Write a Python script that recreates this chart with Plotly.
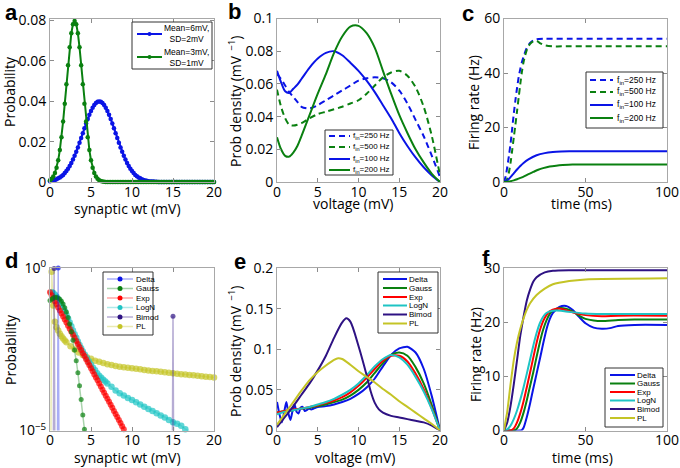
import plotly.graph_objects as go

W, H = 680, 468

BLUE = "#0A14E6"
GREEN = "#0A8010"
RED = "#FF0000"
CYAN = "#1EC4C4"
INDIGO = "#2E1283"
YELLOW = "#C4C426"

# ---------------- panel a : weight distributions ----------------
wt_grid = [round(0.2 * i, 1) for i in range(101)]
p_mean6 = [0.0004, 0.0006, 0.0008, 0.0010, 0.0014, 0.0018, 0.0022, 0.0028, 0.0035, 0.0044,
           0.0054, 0.0066, 0.0079, 0.0094, 0.0111, 0.0130, 0.0150, 0.0171, 0.0194, 0.0218,
           0.0242, 0.0266, 0.0290, 0.0312, 0.0333, 0.0352, 0.0368, 0.0381, 0.0391, 0.0397,
           0.0399,
           0.0397, 0.0391, 0.0381, 0.0368, 0.0352, 0.0333, 0.0312, 0.0290, 0.0266, 0.0242,
           0.0218, 0.0194, 0.0171, 0.0150, 0.0130, 0.0111, 0.0094, 0.0079, 0.0066, 0.0054,
           0.0044, 0.0035, 0.0028, 0.0022, 0.0018, 0.0014, 0.0010, 0.0008, 0.0006, 0.0004,
           0.0003, 0.0002, 0.0002, 0.0001, 0.0001] + [0.0] * 35
p_mean3 = [0.0009, 0.0016, 0.0027, 0.0045, 0.0071, 0.0108, 0.0158, 0.0222, 0.0300, 0.0388,
           0.0484, 0.0579, 0.0667, 0.0737, 0.0782, 0.0798, 0.0782, 0.0737, 0.0667, 0.0579,
           0.0484, 0.0388, 0.0300, 0.0222, 0.0158, 0.0108, 0.0071, 0.0045, 0.0027, 0.0016,
           0.0009, 0.0005, 0.0002, 0.0001] + [0.0] * 67

# ---------------- panel b : voltage densities ----------------
volt_b = [0, 0.5, 1, 1.5, 2, 2.5, 3, 4, 5, 6, 7, 8, 9, 10, 11, 12, 13, 14, 15, 16, 17, 18, 19, 20]
dens_250 = [0.066, 0.063, 0.059, 0.055, 0.052, 0.049, 0.046, 0.045, 0.047, 0.050, 0.053, 0.056,
            0.059, 0.062, 0.0635, 0.064, 0.0635, 0.061, 0.056, 0.048, 0.038, 0.028, 0.016, 0.003]
dens_500 = [0.0565, 0.046, 0.039, 0.035, 0.0345, 0.035, 0.036, 0.039, 0.0415, 0.043, 0.0445, 0.046,
            0.048, 0.050, 0.054, 0.059, 0.064, 0.067, 0.068, 0.065, 0.058, 0.046, 0.028, 0.004]
dens_100 = [0.068, 0.061, 0.0555, 0.0545, 0.057, 0.0595, 0.063, 0.070, 0.0755, 0.079, 0.080, 0.0775,
            0.073, 0.068, 0.062, 0.055, 0.047, 0.039, 0.030, 0.022, 0.015, 0.009, 0.004, 0.0]
dens_200 = [0.0274, 0.020, 0.016, 0.0155, 0.018, 0.022, 0.028, 0.041, 0.054, 0.066, 0.079, 0.089,
            0.095, 0.0955, 0.091, 0.082, 0.068, 0.054, 0.041, 0.030, 0.020, 0.012, 0.005, 0.0]

# ---------------- panel c : firing rates ----------------
t_250 = [0, 1, 2, 3, 4, 5, 6, 7, 8, 9, 10, 11, 12, 13, 14, 16, 18, 20, 25, 30, 40, 60, 80, 100]
rate_250 = [0, 2, 5.5, 9.5, 14, 19.5, 25, 30, 34.5, 38.5, 41.5, 44, 46, 47.8, 49.2, 51, 52, 52.4,
            52.6, 52.6, 52.6, 52.6, 52.6, 52.6]
t_500 = [0, 1, 2, 3, 4, 5, 6, 7, 8, 9, 10, 11, 12, 13, 14, 15, 16, 18, 20, 22, 25, 30, 40, 100]
rate_500 = [0, 0.3, 1.2, 3.5, 7, 11.5, 16.3, 21, 26, 31, 36, 40.5, 44, 46.5, 48.5, 49.8, 50.7, 51.6,
            51.8, 51, 50.2, 49.8, 49.8, 49.8]
t_100 = [0, 2, 4, 6, 8, 10, 12, 15, 20, 25, 30, 35, 40, 50, 60, 80, 100]
rate_100 = [0, 0.6, 1.8, 3.2, 4.6, 5.9, 7.0, 8.3, 9.8, 10.6, 11.0, 11.2, 11.3, 11.3, 11.3, 11.3, 11.3]
t_200 = [0, 2, 4, 6, 8, 10, 12, 15, 18, 21, 24, 28, 32, 36, 42, 50, 60, 100]
rate_200 = [0, 0.1, 0.3, 0.6, 1.0, 1.5, 2.0, 2.9, 3.7, 4.5, 5.1, 5.7, 6.0, 6.2, 6.4, 6.4, 6.4, 6.4]

# ---------------- panel d : distributions on log scale ----------------
delta_wt = [0.8, 1.0, 1.2]
delta_p = [0, 1.0, 0]
gauss_wt = [round(0.2 * i, 1) for i in range(23)]
gauss_p = [0.10, 0.11, 0.12, 0.125, 0.125, 0.12, 0.11, 0.095, 0.078, 0.060, 0.044, 0.030, 0.019,
           0.011, 0.0060, 0.0030, 0.0014, 0.0006, 0.00024, 0.00009, 0.00003, 0.000011, 0.000004]
exp_wt = [round(0.2 * i, 1) for i in range(48)]
exp_p = [0.18, 0.145, 0.117, 0.0943, 0.0760, 0.0613, 0.0494, 0.0398, 0.0321, 0.0259,
         0.0209, 0.0168, 0.0136, 0.0109, 0.0088, 0.0071, 0.0057, 0.0046, 0.0037, 0.0030,
         0.0024, 0.00195, 0.00157, 0.00127, 0.00102, 0.00082, 0.00066, 0.00053, 0.00043, 0.00035,
         0.00028, 0.000225, 0.000181, 0.000146, 0.000118, 0.000095, 0.000077, 0.000062, 0.000050,
         0.000040, 0.000032, 0.000026, 0.000021, 0.000017, 0.0000136, 0.000011, 0.0000089, 0.0000072]
logn_wt = [0.2, 0.4, 0.6, 0.8, 1.0, 1.2, 1.4, 1.6, 1.8, 2.0, 2.2, 2.4, 2.6, 2.8, 3.0, 3.2, 3.4, 3.6,
           3.8, 4.0, 4.25, 4.5, 4.75, 5.0, 5.25, 5.5, 5.75, 6.0, 6.25, 6.5, 6.75, 7.0, 7.5, 8.0,
           8.5, 9.0, 9.5, 10.0, 10.5, 11.0, 11.5, 12.0, 12.5, 13.0, 13.5, 14.0, 14.5, 15.0, 15.5,
           16.0, 16.5, 17.0]
logn_p = [0.18, 0.17, 0.15, 0.13, 0.11, 0.092, 0.075, 0.060, 0.047, 0.036, 0.028, 0.021, 0.016,
          0.012, 0.0092, 0.0071, 0.0055, 0.0043, 0.0034, 0.0027, 0.00213, 0.00168, 0.00133,
          0.00105, 0.00086, 0.00071, 0.00058, 0.00048, 0.00042, 0.000365, 0.00032, 0.00028,
          0.00022, 0.00017, 0.00014, 0.00012, 0.0001, 0.000087, 0.000074, 0.000063, 0.000054,
          0.000046, 0.00004, 0.000034, 0.000029, 0.000025, 0.000021, 0.000018, 0.000016,
          0.000014, 0.000011, 0.0000095]
bimod_wt = [0.3, 0.5, 0.7, 14.8, 15.0, 15.2]
bimod_p = [0, 0.97, 0, 0, 0.033, 0]
pl_wt = [0, 0.2, 0.4, 0.6, 0.8, 1.0, 1.2, 1.4, 1.6, 1.8, 2.0, 2.5, 3.0, 3.5, 4.0, 4.5, 5.0, 5.5,
         6.0, 6.5, 7.0, 7.5, 8.0, 8.5, 9.0, 9.5, 10.0, 10.5, 11.0, 11.5, 12.0, 12.5, 13.0, 13.5,
         14.0, 14.5, 15.0, 15.5, 16.0, 16.5, 17.0, 17.5, 18.0, 18.5, 19.0, 19.5, 20.0]
pl_p = [0, 0.77, 0.07, 0.022, 0.015, 0.012, 0.0095, 0.008, 0.0068, 0.0059, 0.0052, 0.0039, 0.0031,
        0.0025, 0.0021, 0.0018, 0.0016, 0.0014, 0.0013, 0.0012, 0.0011, 0.00103, 0.00097,
        0.00092, 0.00088, 0.00085, 0.00082, 0.00079, 0.00076, 0.00073, 0.0007, 0.00068, 0.00066,
        0.00064, 0.00062, 0.0006, 0.00058, 0.00056, 0.00054, 0.00053, 0.00051, 0.0005, 0.00048,
        0.00047, 0.00045, 0.00044, 0.00043]

# ---------------- panel e : voltage densities per distribution ----------------
volt_e = list(range(21))
delta_volt = [0, 0.3, 0.6, 0.9, 1.15, 1.4, 1.65, 1.9, 2.15, 2.4, 2.65, 2.9, 3.15, 3.4, 3.65, 3.9,
              4.2, 4.5, 5, 6, 7, 8, 9, 10, 11, 12, 13, 14, 15, 16, 17, 18, 19, 20]
dens_delta = [0.035, 0.020, 0.010, 0.024, 0.035, 0.021, 0.013, 0.024, 0.032, 0.023, 0.021, 0.028,
              0.029, 0.024, 0.025, 0.027, 0.026, 0.027, 0.029, 0.030, 0.032, 0.035, 0.039, 0.045,
              0.053, 0.064, 0.079, 0.093, 0.101, 0.103, 0.096, 0.076, 0.042, 0.0]
dens_gauss = [0.022, 0.024, 0.025, 0.027, 0.028, 0.030, 0.032, 0.035, 0.038, 0.043, 0.050, 0.059,
              0.071, 0.083, 0.093, 0.096, 0.092, 0.078, 0.058, 0.031, 0.0]
dens_exp = [0.022, 0.024, 0.026, 0.027, 0.029, 0.031, 0.034, 0.037, 0.041, 0.047, 0.055, 0.065,
            0.076, 0.086, 0.092, 0.092, 0.085, 0.070, 0.051, 0.027, 0.0]
dens_logn = [0.020, 0.023, 0.025, 0.027, 0.029, 0.032, 0.035, 0.039, 0.044, 0.050, 0.058, 0.068,
             0.079, 0.088, 0.093, 0.090, 0.081, 0.066, 0.048, 0.026, 0.0]
bimod_volt = [0, 1, 2, 3, 4, 5, 6, 7, 8, 8.5, 9, 10, 11, 11.5, 12, 12.5, 13, 14, 15, 16, 17, 18, 19, 20]
dens_bimod = [0.004, 0.017, 0.030, 0.044, 0.058, 0.074, 0.092, 0.114, 0.133, 0.138, 0.134, 0.104,
              0.068, 0.048, 0.034, 0.026, 0.022, 0.018, 0.016, 0.014, 0.012, 0.010, 0.006, 0.0]
pl_volt = [0, 1, 2, 3, 4, 5, 6, 7, 7.5, 8, 9, 10, 11, 12, 13, 14, 15, 16, 17, 18, 19, 20]
dens_pl = [0.007, 0.021, 0.035, 0.049, 0.062, 0.072, 0.080, 0.087, 0.089, 0.088, 0.081, 0.073,
           0.066, 0.059, 0.051, 0.044, 0.036, 0.029, 0.022, 0.015, 0.008, 0.0]

# ---------------- panel f : firing rates per distribution ----------------
t_delta = [0, 10, 11, 12, 14, 16, 18, 20, 22, 24, 26, 28, 30, 34, 38, 42, 46, 50, 55, 60, 65, 70, 80, 100]
rate_delta = [0, 0, 0.1, 0.5, 2.5, 5, 7.8, 10.5, 13.2, 16, 18.6, 20.5, 21.7, 22.8, 23.0, 22.3, 21.0,
              19.8, 19.0, 18.8, 18.9, 19.3, 19.5, 19.5]
t_gauss = [0, 6, 8, 10, 12, 14, 16, 18, 20, 22, 24, 26, 28, 30, 34, 38, 42, 46, 50, 55, 60, 70, 80, 100]
rate_gauss = [0, 0, 0.4, 1.5, 3.3, 5.6, 8.2, 10.8, 13.6, 16.3, 18.6, 20.3, 21.5, 22.1, 22.6, 22.5,
              22.0, 21.2, 20.6, 20.3, 20.2, 20.4, 20.5, 20.5]
t_exp = [0, 4, 6, 8, 10, 12, 14, 16, 18, 20, 22, 24, 26, 28, 32, 36, 40, 45, 50, 60, 70, 100]
rate_exp = [0, 0, 0.4, 1.5, 3.2, 5.4, 8.0, 10.7, 13.5, 16.2, 18.5, 20.2, 21.3, 22.0, 22.5, 22.4,
            22.0, 21.6, 21.3, 21.1, 21.2, 21.2]
t_logn = [0, 2, 4, 6, 8, 10, 12, 14, 16, 18, 20, 22, 24, 26, 30, 35, 40, 50, 60, 100]
rate_logn = [0, 0.2, 0.9, 2.1, 3.7, 5.7, 8.0, 10.5, 13.1, 15.7, 18.0, 19.8, 21.0, 21.7, 22.1, 22.1,
             21.9, 21.6, 21.5, 21.5]
t_bimod = [0, 2, 4, 6, 8, 10, 12, 14, 16, 18, 20, 25, 30, 40, 100]
rate_bimod = [0, 1.5, 4.5, 8.5, 13, 17.5, 21, 24, 26, 27.5, 28.3, 29.2, 29.5, 29.6, 29.6]
t_pl = [0, 1, 2, 4, 6, 8, 10, 12, 14, 16, 20, 25, 30, 40, 50, 100]
rate_pl = [0, 1.8, 3.5, 8.5, 13, 16.3, 18.8, 20.7, 22.3, 23.5, 25, 26.2, 27, 27.6, 27.9, 28.1]

FLOOR = 1e-12  # zero probabilities pushed below the log axis


def fx(px):
    return px / W


def fy(py):
    return 1 - py / H


COLS = [(50, 214), (277, 440), (504, 667)]
ROWS = [(18.5, 182), (268, 430.5)]


def axis_pair(i, col, row, xr, xt, yr, yt, ylog=False, yticktext=None):
    x0, x1 = COLS[col]
    y0, y1 = ROWS[row]
    common = dict(ticks="inside", ticklen=4, tickwidth=1, tickcolor="#8c8c8c",
                  showline=True, linecolor="#a8a8a8", linewidth=1, mirror="ticks",
                  showgrid=False, zeroline=False, automargin=False,
                  tickfont=dict(family="Open Sans", size=14, color="black"))
    sfx = "" if i == 1 else str(i)
    xa = dict(common, domain=[fx(x0), fx(x1)], range=xr, tickvals=xt, anchor="y" + sfx,
              ticklabelstandoff=-3)
    ya = dict(common, domain=[fy(y1), fy(y0)], range=yr, tickvals=yt, anchor="x" + sfx)
    if ylog:
        ya["type"] = "log"
        ya["ticktext"] = yticktext
    return {"xaxis" + sfx: xa, "yaxis" + sfx: ya}


fig = go.Figure()


def line(x, y, color, ax, width=2, dash="solid", shape="spline", smoothing=0.8):
    fig.add_trace(go.Scatter(x=x, y=y, mode="lines", xaxis="x" + ax, yaxis="y" + ax,
                             line=dict(color=color, width=width, dash=dash, shape=shape,
                                       smoothing=smoothing),
                             showlegend=False, hoverinfo="skip"))


# panel a
for p, c in [(p_mean6, BLUE), (p_mean3, GREEN)]:
    fig.add_trace(go.Scatter(x=wt_grid, y=p, mode="lines+markers", xaxis="x", yaxis="y",
                             line=dict(color=c, width=2), marker=dict(color=c, size=4.5),
                             showlegend=False, cliponaxis=False))

# panel b
DASH = "6px,4px"
line(volt_b, dens_250, BLUE, "2", dash=DASH)
line(volt_b, dens_500, GREEN, "2", dash=DASH)
line(volt_b, dens_100, BLUE, "2")
line(volt_b, dens_200, GREEN, "2")

# panel c
line(t_250, rate_250, BLUE, "3", dash=DASH)
line(t_500, rate_500, GREEN, "3", dash=DASH)
line(t_100, rate_100, BLUE, "3")
line(t_200, rate_200, GREEN, "3")


# panel d
def rgba(hexc, a):
    h = hexc.lstrip("#")
    return "rgba(%d,%d,%d,%.2f)" % (int(h[0:2], 16), int(h[2:4], 16), int(h[4:6], 16), a)


def logtrace(x, p, color, msize):
    y = [v if v > 0 else FLOOR for v in p]
    sizes = [msize if v > 0 else 0 for v in p]
    fig.add_trace(go.Scatter(x=x, y=y, mode="lines+markers", xaxis="x4", yaxis="y4",
                             line=dict(color=rgba(color, 0.35), width=1.5),
                             marker=dict(color=color, size=sizes, line=dict(width=0)),
                             showlegend=False, cliponaxis=False, hoverinfo="skip"))


logtrace(pl_wt, pl_p, YELLOW, 6.5)
logtrace(logn_wt, logn_p, CYAN, 6.5)
logtrace(exp_wt, exp_p, RED, 6)
logtrace(gauss_wt, gauss_p, GREEN, 5)
logtrace(bimod_wt, bimod_p, INDIGO, 5)
logtrace(delta_wt, delta_p, BLUE, 5)

# panel e
line(delta_volt, dens_delta, BLUE, "5", smoothing=0.6)
line(volt_e, dens_gauss, GREEN, "5")
line(volt_e, dens_exp, RED, "5")
line(volt_e, dens_logn, CYAN, "5")
line(bimod_volt, dens_bimod, INDIGO, "5")
line(pl_volt, dens_pl, YELLOW, "5")

# panel f
line(t_delta, rate_delta, BLUE, "6", smoothing=0.6)
line(t_gauss, rate_gauss, GREEN, "6", smoothing=0.6)
line(t_exp, rate_exp, RED, "6", smoothing=0.6)
line(t_logn, rate_logn, CYAN, "6", smoothing=0.6)
line(t_bimod, rate_bimod, INDIGO, "6", smoothing=0.6)
line(t_pl, rate_pl, YELLOW, "6", smoothing=0.6)

layout = {}
layout.update(axis_pair(1, 0, 0, [0, 20], [0, 5, 10, 15, 20], [0, 0.081], [0, 0.02, 0.04, 0.06, 0.08]))
layout.update(axis_pair(2, 1, 0, [0, 20], [0, 5, 10, 15, 20], [0, 0.1], [0, 0.02, 0.04, 0.06, 0.08, 0.1]))
layout.update(axis_pair(3, 2, 0, [0, 100], [0, 50, 100], [0, 60], [0, 20, 40, 60]))
layout.update(axis_pair(4, 0, 1, [0, 20], [0, 5, 10, 15, 20], [-5, 0], [1e-5, 1], ylog=True,
                        yticktext=["10<sup>\u22125</sup>", "10<sup>0</sup>"]))
layout.update(axis_pair(5, 1, 1, [0, 20], [0, 5, 10, 15, 20], [0, 0.2], [0, 0.05, 0.1, 0.15, 0.2]))
layout.update(axis_pair(6, 2, 1, [0, 100], [0, 50, 100], [0, 30], [0, 10, 20, 30]))

fig.update_layout(width=W, height=H, margin=dict(l=0, r=0, t=0, b=0, autoexpand=False),
                  paper_bgcolor="white", plot_bgcolor="white", showlegend=False, **layout)

# ---------- text: panel letters and axis titles ----------
TITLE_FONT = dict(family="Open Sans", size=14, color="black")
for letter, x, y in [("a", 11, 12), ("b", 234, 11), ("c", 468, 13),
                     ("d", 11, 260), ("e", 240, 261), ("f", 486, 258)]:
    fig.add_annotation(text="<b>%s</b>" % letter, x=fx(x), y=fy(y), xref="paper", yref="paper",
                       xanchor="center", yanchor="middle", showarrow=False,
                       font=dict(family="Liberation Sans", size=22, color="black"))

DENS = "Prob density (mV<sup>  \u22121</sup>)"
for txt, x, y, ang in [("Probability", 10, 92, -90), ("synaptic wt (mV)", 127, 208, 0),
                       (DENS, 235, 101, -90), ("voltage (mV)", 353, 203, 0),
                       ("Firing rate (Hz)", 473, 103, -90), ("time (ms)", 581, 203, 0),
                       ("Probability", 10, 350, -90), ("synaptic wt (mV)", 127, 457, 0),
                       (DENS, 235, 351, -90), ("voltage (mV)", 355, 457, 0),
                       ("Firing rate (Hz)", 475, 355, -90), ("time (ms)", 582, 457, 0)]:
    fig.add_annotation(text=txt, x=fx(x), y=fy(y), xref="paper", yref="paper", textangle=ang,
                       xanchor="center", yanchor="middle", showarrow=False, font=TITLE_FONT)


# ---------- legends ----------
def add_legend(box, rows, line_x, text_x, entries, size, lw=2, marker_r=0):
    x0, y0, x1, y1 = box
    fig.add_shape(type="rect", xref="paper", yref="paper", x0=fx(x0), x1=fx(x1),
                  y0=fy(y1), y1=fy(y0), line=dict(color="#333333", width=1),
                  fillcolor="white", layer="above")
    for (label, color, dash, lcolor), ry in zip(entries, rows):
        fig.add_shape(type="line", xref="paper", yref="paper", x0=fx(line_x[0]), x1=fx(line_x[1]),
                      y0=fy(ry), y1=fy(ry), line=dict(color=lcolor or color, width=lw, dash=dash),
                      layer="above")
        if marker_r:
            mx = (line_x[0] + line_x[1]) / 2
            fig.add_shape(type="circle", xref="paper", yref="paper",
                          x0=fx(mx - marker_r), x1=fx(mx + marker_r),
                          y0=fy(ry + marker_r), y1=fy(ry - marker_r),
                          line=dict(width=0), fillcolor=color, layer="above")
        fig.add_annotation(text=label, x=fx(text_x), y=fy(ry), xref="paper", yref="paper",
                           xanchor="left", yanchor="middle", showarrow=False,
                           font=dict(family="Liberation Sans", size=size, color="black"))


add_legend((132, 22, 212, 69), [34, 57], (137, 162), 162,
           [("Mean=6mV,<br>SD=2mV", BLUE, "solid", None),
            ("Mean=3mV,<br>SD=1mV", GREEN, "solid", None)], 8.5, marker_r=2)

FIN = "f<sub>in</sub>=%d Hz"
freq_entries = [(FIN % 250, BLUE, DASH, None), (FIN % 500, GREEN, DASH, None),
                (FIN % 100, BLUE, "solid", None), (FIN % 200, GREEN, "solid", None)]
add_legend((325, 130, 393, 175), [136, 147, 159, 170], (329, 350), 351, freq_entries, 8)
add_legend((586, 72, 663, 128), [80, 92, 105, 118], (590, 613), 615, freq_entries, 8.5)

names = ["Delta", "Gauss", "Exp", "LogN", "Bimod", "PL"]
cols = [BLUE, GREEN, RED, CYAN, INDIGO, YELLOW]
add_legend((103, 272, 153, 335), [279, 288.5, 298, 307.5, 317, 326.5], (107, 133), 134,
           [(n, c, "solid", rgba(c, 0.35)) for n, c in zip(names, cols)], 8, lw=1.5, marker_r=2.5)
add_legend((378, 272, 438, 333), [279, 288, 297, 305.5, 314.5, 323.5], (383, 407), 407,
           [(n, c, "solid", None) for n, c in zip(names, cols)], 8)
add_legend((605, 368, 663, 427), [375, 383.5, 392, 400.5, 409, 418], (610, 635), 635,
           [(n, c, "solid", None) for n, c in zip(names, cols)], 8)

# the page body keeps its default 8px margin otherwise, which shifts the whole figure
fig.write_html("out.html", config={"displayModeBar": False},
               post_script="document.body.style.margin='0px';")
